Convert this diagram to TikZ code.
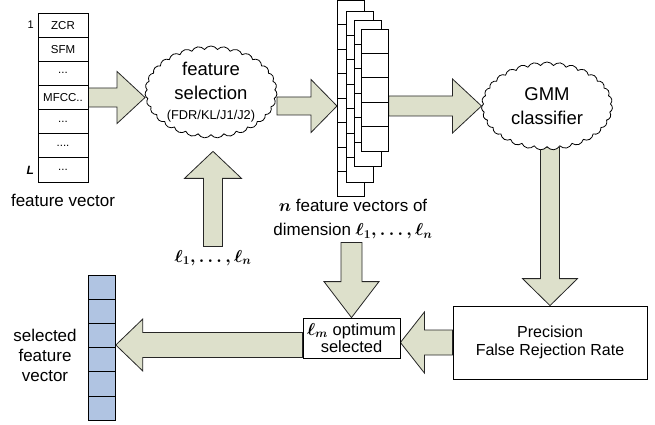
\documentclass[tikz,border=0pt]{standalone}
\usepackage{amsmath}
\usepackage{fontspec}
\setmainfont{Liberation Sans}
\usetikzlibrary{calc,shapes.symbols,backgrounds}
\definecolor{arrowfill}{RGB}{221,224,203}
\definecolor{vecfill}{RGB}{176,196,226}
\newcommand{\threedots}{...}
\newcommand{\fourdots}{....}
\tikzset{
  fatarr/.style={draw=black!85,fill=arrowfill,line width=0.8pt,line join=miter},
  cell/.style={draw,minimum width=50pt,minimum height=24.14pt,inner sep=0pt,font=\fontsize{11.5}{12}\selectfont},
  slab/.style={draw,fill=white,anchor=north west,minimum width=27pt,inner sep=0pt},
  puff/.style={cloud,cloud puffs=31,cloud puff arc=115,cloud ignores aspect,draw,fill=white,inner sep=0pt,align=center,font=\fontsize{18.5}{24.5}\selectfont},
  box/.style={draw,fill=white,align=center,inner sep=0pt,font=\fontsize{16}{17.5}\selectfont},
  lbl/.style={align=center,font=\fontsize{17}{24}\selectfont}
}
\newcommand{\fatarrow}[5]{%
  \draw[fatarr] let \p1=(#1), \p2=(#2),
    \n1={atan2(\y2-\y1,\x2-\x1)}, \n2={veclen(\x2-\x1,\y2-\y1)} in
    [shift={(\p1)}, rotate=\n1]
    (0pt,#3pt) -- ({\n2*1pt-#5pt},#3pt) -- ({\n2*1pt-#5pt},#4pt) -- ({\n2*1pt},0pt)
    -- ({\n2*1pt-#5pt},-#4pt) -- ({\n2*1pt-#5pt},-#3pt) -- (0pt,-#3pt) -- cycle;}

\begin{document}
\begin{tikzpicture}[x=1pt,y=-1pt,line width=0.8pt]
\useasboundingbox (0,0) rectangle (655,425);

\foreach \t [count=\i] in {ZCR,SFM,\threedots,MFCC..,\threedots,\fourdots,\threedots}
  \node[cell] (fv\i) at (63,{13+24.14*(\i-0.5)}) {\t};
\node[left,font=\fontsize{11}{12}\selectfont] at (fv1.west) {1};
\node[left,font=\fontsize{12}{12}\selectfont] at (fv7.west) {\textbf{\textit{L}}};
\node[lbl] (fvlab) at (63,200) {feature vector};

\node[puff,minimum width=132pt,minimum height=77pt] (sel) at (211,92)
  {feature\\selection\\[-4.5pt]{\fontsize{12.8}{14}\selectfont (FDR/KL/J1/J2)}};
\node[lbl] (ell) at (213,258) {$\boldsymbol{\ell_1, \ldots, \ell_n}$};

\foreach \n/\x/\y/\k in {1/337/0.5/8,2/346/11/7,3/354/20/6,4/361/29/5}{
  \node[slab,minimum height=\k*24.4pt] (st\n) at (\x,\y) {};
  \foreach \j in {2,...,\k} \draw (st\n.north west) ++(0,{(\j-1)*24.4}) -- ++(27,0);
}
\node[lbl] (nfv) at (353,219) {$\boldsymbol{n}$ feature vectors of\\dimension $\boldsymbol{\ell_1, \ldots, \ell_n}$};

\node[puff,minimum width=131pt,minimum height=88pt] (gmm) at (547,106) {GMM\\classifier};
\node[box,minimum width=194pt,minimum height=73pt] (res) at (550,342.5) {Precision\\False Rejection Rate};
\node[box,minimum width=97pt,minimum height=40pt,font=\fontsize{16.5}{17.5}\selectfont] (opt) at (351.5,338) {$\boldsymbol{\ell_m}$ optimum\\selected};

\node[draw,fill=vecfill,anchor=north west,minimum width=27pt,minimum height=145pt,inner sep=0pt] (sv) at (88,275) {};
\foreach \j in {1,...,5} \draw (sv.north west) ++(0,{\j*24.2}) -- ++(27,0);
\node[lbl,font=\fontsize{17}{20}\selectfont] (svlab) at (45,355) {selected\\feature\\vector};

\coordinate (seltip) at ([yshift=-16pt]sel.south);
\coordinate (lo) at ([yshift=-7pt]opt.west);
\begin{scope}[on background layer]
\fatarrow{fv4.east}{fv4.east -| sel.west}{9.5}{26}{28}
\fatarrow{sel.east |- gmm.west}{st1.west |- gmm.west}{9}{26.5}{26}
\fatarrow{st4.east |- gmm.west}{gmm.west}{10}{27}{29}
\fatarrow{res.north |- gmm.south}{res.north}{9.5}{27.5}{27}
\fatarrow{ell.north}{ell.north |- seltip}{9.5}{28.5}{27}
\fatarrow{opt.north |- nfv.south}{opt.north}{10.5}{27.5}{36}
\fatarrow{res.west}{res.west -| opt.east}{12.5}{30.5}{24}
\fatarrow{lo}{lo -| sv.east}{12.5}{26}{27}
\end{scope}
\end{tikzpicture}
\end{document}
